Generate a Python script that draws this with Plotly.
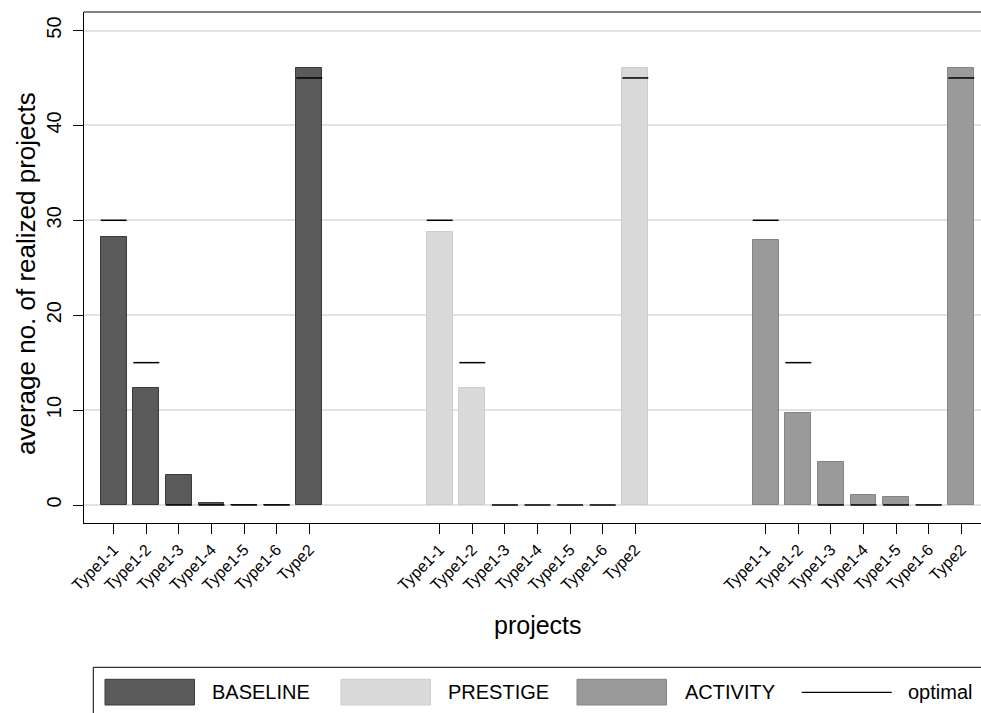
import plotly.graph_objects as go

categories = ["Type1-1", "Type1-2", "Type1-3", "Type1-4", "Type1-5", "Type1-6", "Type2"]
baseline = [28.2, 12.3, 3.2, 0.2, 0.05, 0.02, 46.0]
prestige = [28.8, 12.3, 0.0, 0.0, 0.0, 0.0, 46.1]
activity = [27.9, 9.7, 4.5, 1.1, 0.8, 0.0, 46.1]
optimal = [30, 15, 0, 0, 0, 0, 45]
series_names = ["BASELINE", "PRESTIGE", "ACTIVITY"]
y_ticks = [0, 10, 20, 30, 40, 50]

fills = ["#5a5a5a", "#d9d9d9", "#9a9a9a"]
edges = ["#3a3a3a", "#cdcdcd", "#848484"]
FONT = "Liberation Sans, Arial, Helvetica, sans-serif"

W, H = 981, 713
ML, MT = 84, 12
PLOT_R, PLOT_B = 981, 523
PW, PH = PLOT_R - ML, PLOT_B - MT


def px(x):
    return (x - ML) / PW


def py(y):
    return (PLOT_B - y) / PH


group_gap = 10
fig = go.Figure()
all_pos, all_labels = [], []
for g, (name, vals) in enumerate(zip(series_names, [baseline, prestige, activity])):
    pos = [g * group_gap + i for i in range(len(categories))]
    all_pos += pos
    all_labels += categories
    fig.add_trace(go.Bar(
        x=pos, y=vals, width=0.79, name=name,
        marker=dict(color=fills[g], line=dict(color=edges[g], width=1)),
        showlegend=False,
    ))
for g in range(3):
    pos = [g * group_gap + i for i in range(len(categories))]
    fig.add_trace(go.Scatter(
        x=pos, y=optimal, mode="markers", name="optimal", showlegend=False,
        marker=dict(symbol="line-ew", size=18.5, color="black",
                    line=dict(color="black", width=1.5)),
        cliponaxis=False,
    ))

# pixel mapping: pos -> 113.7 + 32.6*pos
x0 = (ML - 113.7) / 32.6
x1 = (PLOT_R - 113.7) / 32.6
ppu = 9.49
y_max = (505 - MT) / ppu
y_min = y_max - PH / ppu

fig.update_layout(
    width=W, height=H,
    margin=dict(l=ML, r=W - PLOT_R, t=MT, b=H - PLOT_B),
    plot_bgcolor="white", paper_bgcolor="white",
    font=dict(family=FONT, color="black"),
    bargap=0,
    xaxis=dict(
        range=[x0, x1], tickmode="array", tickvals=all_pos, ticktext=all_labels,
        tickangle=-45, ticks="outside", ticklen=10, tickcolor="black", tickwidth=1,
        showline=True, linecolor="black", linewidth=1, showgrid=False, zeroline=False,
        tickfont=dict(size=16, family=FONT, color="black"),
    ),
    yaxis=dict(
        range=[y_min, y_max], tickmode="array", tickvals=y_ticks,
        tickangle=-90, ticks="outside", ticklen=10, tickcolor="black", tickwidth=1,
        showline=True, linecolor="black", linewidth=1,
        showgrid=True, gridcolor="#e2e2e2", gridwidth=2, zeroline=False,
        tickfont=dict(size=20, family=FONT, color="black"),
        ticklabelstandoff=4,
    ),
)

shapes = [
    dict(type="line", xref="paper", yref="paper", x0=0, x1=1.05, y0=1, y1=1,
         line=dict(color="black", width=1)),
    dict(type="rect", xref="paper", yref="paper", x0=px(93.3), x1=px(1010),
         y0=py(667.3), y1=py(740), line=dict(color="black", width=1),
         fillcolor="rgba(0,0,0,0)"),
]
annotations = [
    dict(text="projects", xref="paper", yref="paper", x=px(538), y=py(625),
         showarrow=False, font=dict(size=25, family=FONT), xanchor="center", yanchor="middle"),
    dict(text="average no. of realized projects", xref="paper", yref="paper",
         x=px(26), y=py(274), textangle=-90, showarrow=False,
         font=dict(size=26, family=FONT), xanchor="center", yanchor="middle"),
]
sw_x = [105, 341, 577]
tx_x = [210, 446, 683]
for i, name in enumerate(series_names):
    shapes.append(dict(type="rect", xref="paper", yref="paper",
                       x0=px(sw_x[i]), x1=px(sw_x[i] + 89.5), y0=py(705), y1=py(679.3),
                       fillcolor=fills[i], line=dict(color=edges[i], width=1)))
    annotations.append(dict(text=name, xref="paper", yref="paper", x=px(tx_x[i]), y=py(692),
                            showarrow=False, xanchor="left", yanchor="middle",
                            font=dict(size=20, family=FONT)))
shapes.append(dict(type="line", xref="paper", yref="paper", x0=px(801.7), x1=px(891.7),
                   y0=py(692.3), y1=py(692.3), line=dict(color="black", width=1.2)))
annotations.append(dict(text="optimal", xref="paper", yref="paper", x=px(906), y=py(692),
                        showarrow=False, xanchor="left", yanchor="middle",
                        font=dict(size=20, family=FONT)))

fig.update_layout(shapes=shapes, annotations=annotations)
fig.write_html(
    "out.html",
    config={"displayModeBar": False},
    post_script="document.body.style.margin='0';document.body.style.overflow='hidden';",
)
